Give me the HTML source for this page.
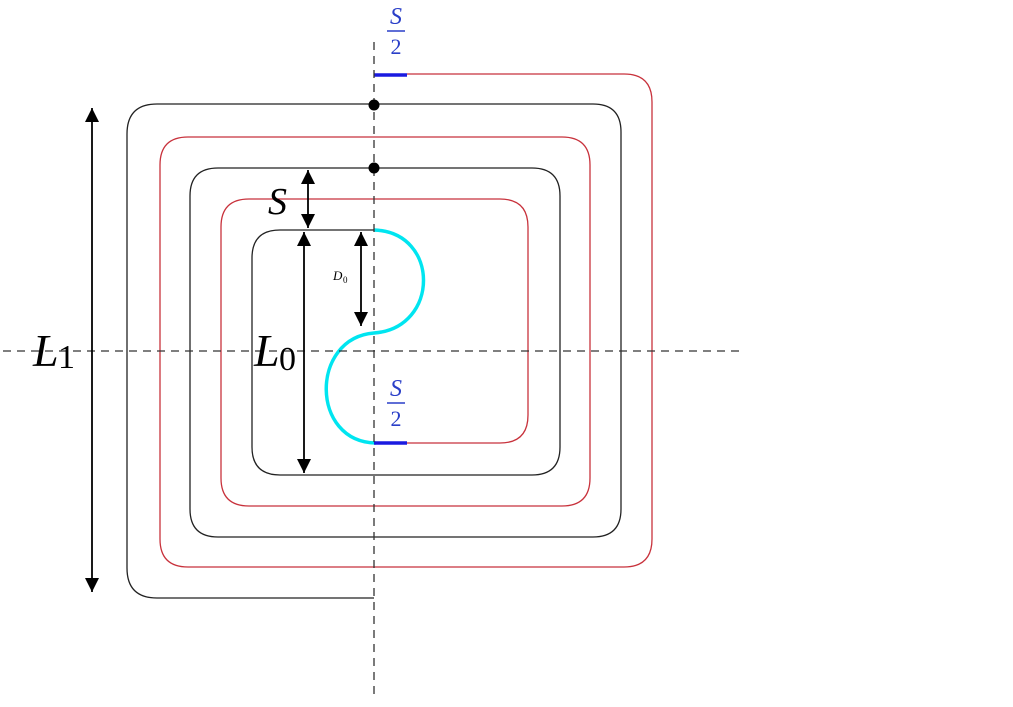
<!DOCTYPE html>
<html><head><style>html,body{margin:0;padding:0;background:#fff}svg{display:block}</style></head>
<body>
<svg width="1013" height="707" viewBox="0 0 1013 707" xmlns="http://www.w3.org/2000/svg">
<defs>
<marker id="a" viewBox="0 0 10 10" refX="10" refY="5" markerWidth="14" markerHeight="14" markerUnits="userSpaceOnUse" orient="auto-start-reverse" preserveAspectRatio="none">
<path d="M0,0 L10,5 L0,10 Z" fill="#000"/></marker>
</defs>
<g fill="none" stroke-width="1.3">
<path stroke="#222" d="M374,230 H280 Q252,230 252,258 V447 Q252,475 280,475 H532 Q560,475 560,447 V196 Q560,168 532,168 H218 Q190,168 190,196 V509 Q190,537 218,537 H593 Q621,537 621,509 V132 Q621,104 593,104 H157 Q127,104 127,134 V568 Q127,598 157,598 H374"/>
<path stroke="#c8323c" d="M407,443 H500 Q528,443 528,415 V227 Q528,199 500,199 H249 Q221,199 221,227 V478 Q221,506 249,506 H562 Q590,506 590,478 V165 Q590,137 562,137 H188 Q160,137 160,165 V539 Q160,567 188,567 H624 Q652,567 652,539 V102 Q652,74 624,74 H407"/>
</g>
<path d="M374,230 C440,232 440,328 374,333 C310,338 310,442 376,443" fill="none" stroke="#00e5f0" stroke-width="3.5"/>
<g stroke="#1a1ae0" stroke-width="3.5"><line x1="374" y1="75" x2="407" y2="75"/><line x1="374" y1="443" x2="407" y2="443"/></g>
<g stroke="#333" stroke-width="1.3" stroke-dasharray="8,6">
<line x1="374" y1="42" x2="374" y2="697"/>
<line x1="3" y1="351" x2="745" y2="351"/>
</g>
<circle cx="374" cy="105" r="5.5" fill="#000"/>
<circle cx="374" cy="168" r="5.5" fill="#000"/>
<g stroke="#000" stroke-width="1.8">
<line x1="92" y1="108" x2="92" y2="592" marker-start="url(#a)" marker-end="url(#a)"/>
<line x1="308" y1="170" x2="308" y2="228" marker-start="url(#a)" marker-end="url(#a)"/>
<line x1="304" y1="232" x2="304" y2="473" marker-start="url(#a)" marker-end="url(#a)"/>
<line x1="361" y1="232" x2="361" y2="326" marker-start="url(#a)" marker-end="url(#a)"/>
</g>
<g font-family="Liberation Serif, serif" font-style="italic" fill="#000">
<text x="33" y="366" font-size="46">L</text><text x="58" y="368" font-size="34" font-style="normal">1</text>
<text x="254" y="366" font-size="46">L</text><text x="279" y="370" font-size="34" font-style="normal">0</text>
<text x="268" y="214" font-size="38">S</text>
<text x="333" y="280" font-size="13">D</text><text x="343" y="283" font-size="9" font-style="normal">0</text>
</g>
<g font-family="Liberation Serif, serif" fill="#2a3fc8" text-anchor="middle">
<text x="396" y="24" font-size="24" font-style="italic">S</text>
<line x1="387" y1="31" x2="405" y2="31" stroke="#2a3fc8" stroke-width="1.5"/>
<text x="396" y="54" font-size="22">2</text>
<text x="396" y="396" font-size="24" font-style="italic">S</text>
<line x1="387" y1="403" x2="405" y2="403" stroke="#2a3fc8" stroke-width="1.5"/>
<text x="396" y="426" font-size="22">2</text>
</g>
</svg>
</body></html>
